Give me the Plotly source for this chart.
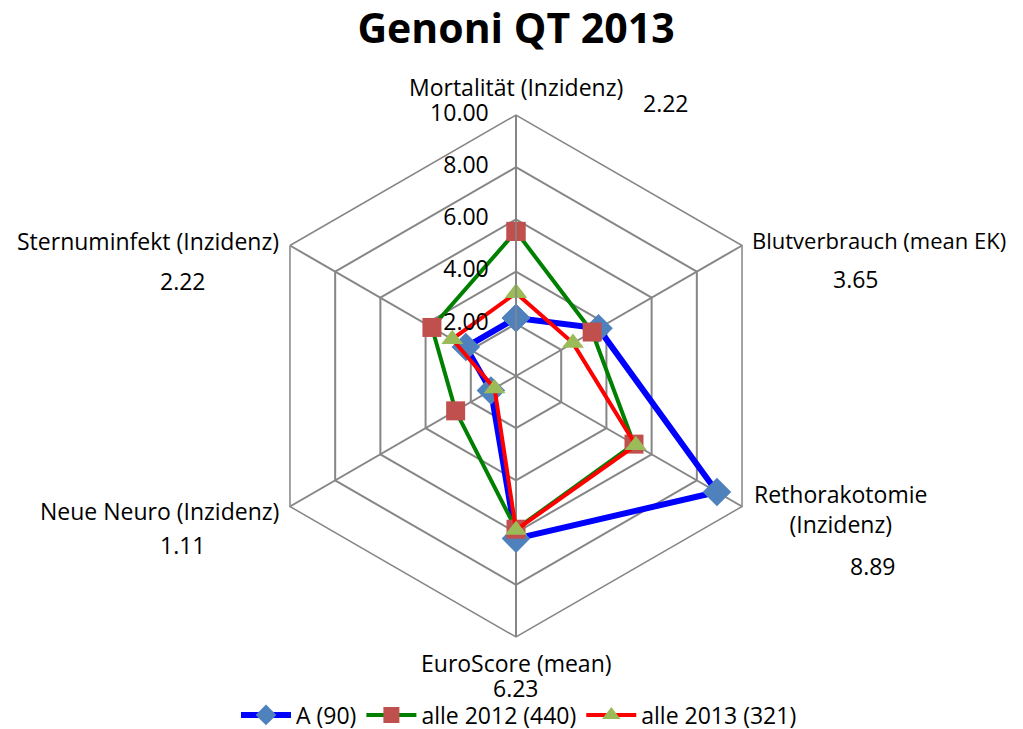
import plotly.graph_objects as go

categories = ["Mortalität (Inzidenz)", "Blutverbrauch (mean EK)", "Rethorakotomie (Inzidenz)",
              "EuroScore (mean)", "Neue Neuro (Inzidenz)", "Sternuminfekt (Inzidenz)"]
label_text = ["Mortalität (Inzidenz)", "Blutverbrauch (mean EK)", "Rethorakotomie<br>(Inzidenz)",
              "EuroScore (mean)", "Neue Neuro (Inzidenz)", "Sternuminfekt (Inzidenz)"]
series_names = ["A (90)", "alle 2012 (440)", "alle 2013 (321)"]
values_A = [2.22, 3.65, 8.89, 6.23, 1.11, 2.22]
values_2012 = [5.54, 3.37, 5.22, 5.87, 2.67, 3.72]
values_2013 = [3.18, 2.52, 5.30, 5.90, 0.95, 2.82]
radial_ticks = [0, 2, 4, 6, 8, 10]

# page body has an 8px margin: figure is drawn offset by 8px
OFF = 8
W, H = 1023 - OFF, 729 - OFF
FONT = "Open Sans"
FS = 23

line_colors = ["#0000FF", "#008000", "#FF0000"]
marker_colors = ["#4F81BD", "#C0504D", "#9BBB59"]
symbols = ["diamond", "square", "triangle-up"]
widths = [6, 4, 4]
sizes = [22, 19, 19]

fig = go.Figure()
for name, vals, lc, mc, sym, lw, ms in zip(series_names, [values_A, values_2012, values_2013],
                                          line_colors, marker_colors, symbols, widths, sizes):
    fig.add_trace(go.Scatterpolar(
        r=vals + vals[:1], theta=categories + categories[:1], name=name,
        mode="lines+markers",
        line=dict(color=lc, width=lw),
        marker=dict(symbol=sym, size=ms, color=mc, line=dict(width=0)),
    ))

# radial tick labels, placed on the radial scale left of the first spoke
fig.add_trace(go.Scatterpolar(
    r=radial_ticks, theta=[categories[0]] * len(radial_ticks),
    mode="markers+text", text=[f"{v:.2f}" for v in radial_ticks],
    textposition="middle left", textfont=dict(size=FS, family=FONT, color="black"),
    marker=dict(size=42, color="rgba(0,0,0,0)"), showlegend=False, hoverinfo="skip",
))

def px(x, y):
    return (x - OFF) / W, 1 - (y - OFF) / H

# label positions in screen pixels (anchor x, center y, xanchor, font size)
label_pos = [(516, 87, "center", FS), (750, 240, "left", FS - 1), (840, 509, "center", FS),
             (516, 663, "center", FS), (281, 511, "right", FS), (281, 241, "right", FS)]
value_pos = [(666, 103), (856, 279), (873, 566), (516, 688), (183, 545), (183, 281)]

annotations = []
for txt, (x, y, xa, fs) in zip(label_text, label_pos):
    ax, ay = px(x, y)
    annotations.append(dict(text=txt, x=ax, y=ay, xref="paper", yref="paper",
                            xanchor=xa, yanchor="middle", showarrow=False,
                            font=dict(size=fs, color="black", family=FONT)))
for v, (x, y) in zip(values_A, value_pos):
    ax, ay = px(x, y)
    annotations.append(dict(text=f"{v:.2f}", x=ax, y=ay, xref="paper", yref="paper",
                            xanchor="center", yanchor="middle", showarrow=False,
                            font=dict(size=FS, color="black", family=FONT)))

cx, cy, R = 516, 376, 261
x0, y0 = px(cx - R, cy + R)
x1, y1 = px(cx + R, cy - R)
tx, ty = px(516, 29)
lx, ly = px(519, 715)

fig.update_layout(
    width=W, height=H,
    margin=dict(l=0, r=0, t=0, b=0, autoexpand=False),
    paper_bgcolor="white",
    font=dict(family=FONT, size=FS, color="black"),
    title=dict(text="<b>Genoni QT 2013</b>", x=tx, xanchor="center",
               y=ty, yanchor="middle", font=dict(size=41, family=FONT, color="black")),
    polar=dict(
        domain=dict(x=[x0, x1], y=[y0, y1]),
        bgcolor="white",
        gridshape="linear",
        angularaxis=dict(rotation=90, direction="clockwise", showticklabels=False,
                         ticks="", gridcolor="#868686", linecolor="#868686", gridwidth=1.5,
                         linewidth=1.5, categoryarray=categories, categoryorder="array"),
        radialaxis=dict(range=[0, 10], tickvals=radial_ticks, showticklabels=False,
                        angle=90, showline=True, ticks="",
                        linecolor="#868686", linewidth=1.5, gridcolor="#868686", gridwidth=1.5),
    ),
    showlegend=True,
    legend=dict(orientation="h", x=lx, xanchor="center", y=ly, yanchor="middle",
                font=dict(size=FS, family=FONT, color="black"), itemwidth=50,
                tracegroupgap=0),
    annotations=annotations,
)

fig.write_html("out.html")
